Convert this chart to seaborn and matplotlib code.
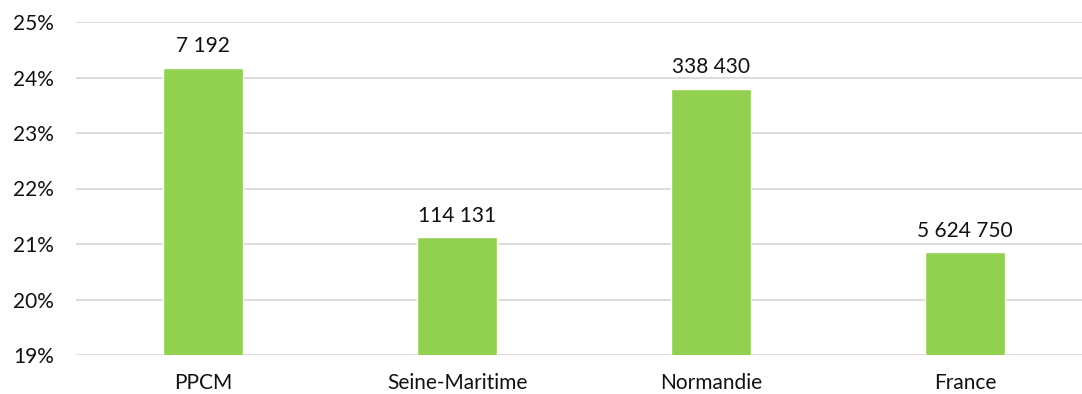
import matplotlib
matplotlib.use("Agg")
import matplotlib.pyplot as plt
import seaborn as sns
import pandas as pd
from matplotlib.ticker import FuncFormatter

# Share of population (in %) and headcount per territory
territories = ["PPCM", "Seine-Maritime", "Normandie", "France"]
shares = [24.18, 21.13, 23.80, 20.86]
counts = ["7 192", "114 131", "338 430", "5 624 750"]

df = pd.DataFrame({"territory": territories, "share": shares, "count": counts})

sns.set_theme(style="white")
plt.rcParams["font.family"] = ["Lato", "DejaVu Sans"]

fig = plt.figure(figsize=(10.82, 3.94), dpi=100)
ax = fig.add_axes([76 / 1082, 39 / 394, 1016 / 1082, 333 / 394])

sns.barplot(data=df, x="territory", y="share", color="#92D050", saturation=1,
            width=0.315, ax=ax, zorder=3)

ax.set_ylim(19, 25)
ax.set_yticks(range(19, 26))
ax.yaxis.set_major_formatter(FuncFormatter(lambda v, _: f"{v:.0f}%"))
ax.grid(axis="y", color="#d9d9d9", linewidth=1.3, zorder=0)
ax.set_axisbelow(True)
for s in ax.spines.values():
    s.set_visible(False)
ax.set_xlabel("")
ax.set_ylabel("")
ax.tick_params(axis="y", labelsize=15, colors="#111111", pad=16, length=0)
ax.tick_params(axis="x", labelsize=15, colors="#111111", pad=13, length=0)

for patch, label in zip(ax.patches, df["count"]):
    ax.annotate(label, (patch.get_x() + patch.get_width() / 2, patch.get_height() + patch.get_y()),
                xytext=(0, 8), textcoords="offset points", ha="center", va="bottom",
                fontsize=15, color="#111111")

fig.savefig("out.png", dpi=100)
